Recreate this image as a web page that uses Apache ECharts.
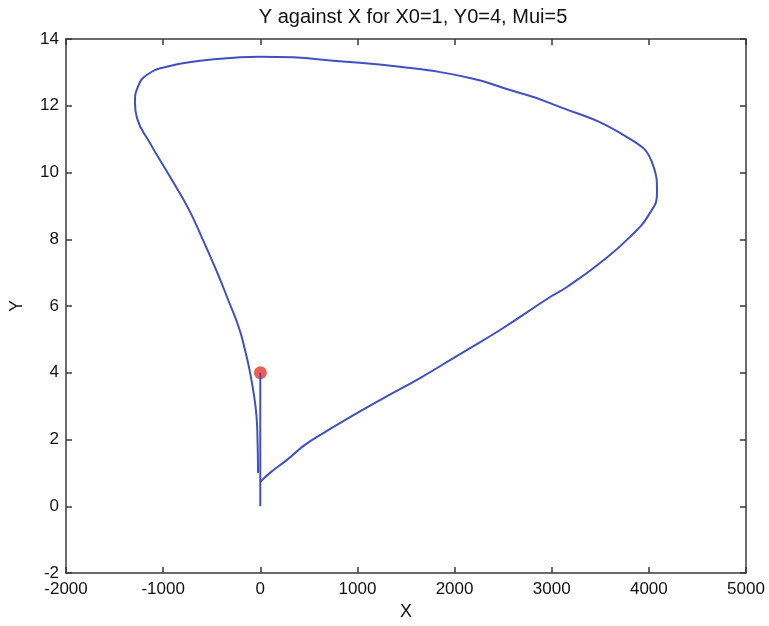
<!DOCTYPE html>
<html>
<head>
<meta charset="utf-8">
<script src="https://cdn.jsdelivr.net/npm/echarts@6/dist/echarts.min.js"></script>
<style>html,body{margin:0;padding:0;background:#fff}#c{width:769px;height:626px}</style>
</head>
<body>
<div id="c"></div>
<script>
var titleText = 'Y against X for X0=1, Y0=4, Mui=5';
var xTicks = [-2000, -1000, 0, 1000, 2000, 3000, 4000, 5000];
var yTicks = [-2, 0, 2, 4, 6, 8, 10, 12, 14];
// vertical drop at start
var dropX = [0, 0];
var dropY = [4, 0];
// main loop trajectory
var loopX = [0, 100, 275, 460, 666, 924, 1232, 1644, 2056, 2468, 2983, 3157, 3497, 3806, 4012, 4084, 4043, 3775, 2983, 2571, 2159, 1438, 749, 337, -3, -209, -621, -963, -1169, -1259, -1290, -1269, -1135, -929, -744, -590, -446, -322, -219, -157, -106, -65, -39, -29, -23];
var loopY = [0.73, 1.0, 1.39, 1.84, 2.22, 2.67, 3.18, 3.84, 4.56, 5.28, 6.27, 6.57, 7.29, 8.07, 8.79, 9.39, 10.22, 11.06, 12.08, 12.47, 12.83, 13.17, 13.35, 13.45, 13.47, 13.45, 13.35, 13.17, 12.92, 12.57, 12.08, 11.63, 10.88, 9.87, 8.94, 7.98, 7.02, 6.12, 5.34, 4.68, 4.02, 3.33, 2.70, 2.07, 1.0];
// initial point
var startX = [1];
var startY = [4];

function zip(a, b) { return a.map(function (v, i) { return [v, b[i]]; }); }

var FONT = '"Liberation Sans", Arial, sans-serif';
var chart = echarts.init(document.getElementById('c'));
var axisLine = { show: true, onZero: false, lineStyle: { color: '#3a3a3a', width: 1.5 } };
var tickIn = { show: true, inside: true, length: 6, lineStyle: { color: '#3a3a3a', width: 1.5 } };
var plain = function (v) { return String(v); };
chart.setOption({
  animation: false,
  backgroundColor: '#fff',
  title: {
    text: titleText, left: 408, top: 2, textAlign: 'center',
    textStyle: { fontFamily: FONT, fontSize: 20, fontWeight: 'normal', color: '#111' }
  },
  grid: { left: 66, right: 23, top: 39, bottom: 53, containLabel: false, outerBoundsMode: 'none' },
  xAxis: [{
    type: 'value', min: xTicks[0], max: xTicks[xTicks.length - 1], interval: 1000,
    position: 'bottom', axisLine: axisLine, axisTick: tickIn, splitLine: { show: false },
    axisLabel: { color: '#111', fontFamily: FONT, fontSize: 17, margin: 8, formatter: plain },
    name: 'X', nameLocation: 'middle', nameGap: 30,
    nameTextStyle: { color: '#111', fontFamily: FONT, fontSize: 18 }
  }, {
    type: 'value', min: xTicks[0], max: xTicks[xTicks.length - 1], interval: 1000,
    position: 'top', axisLine: axisLine, axisTick: tickIn, splitLine: { show: false },
    axisLabel: { show: false }
  }],
  yAxis: [{
    type: 'value', min: yTicks[0], max: yTicks[yTicks.length - 1], interval: 2,
    position: 'left', axisLine: axisLine, axisTick: tickIn, splitLine: { show: false },
    axisLabel: { color: '#111', fontFamily: FONT, fontSize: 17, margin: 7, formatter: plain },
    name: 'Y', nameLocation: 'middle', nameGap: 40, nameRotate: 90,
    nameTextStyle: { color: '#111', fontFamily: FONT, fontSize: 18 }
  }, {
    type: 'value', min: yTicks[0], max: yTicks[yTicks.length - 1], interval: 2,
    position: 'right', axisLine: axisLine, axisTick: tickIn, splitLine: { show: false },
    axisLabel: { show: false }
  }],
  series: [{
    type: 'line', data: zip(dropX, dropY), showSymbol: false,
    lineStyle: { color: '#4050c0', width: 2 }
  }, {
    type: 'line', data: zip(loopX, loopY), showSymbol: false, smooth: 0.5,
    lineStyle: { color: '#4050c0', width: 2 }
  }, {
    type: 'scatter', data: zip(startX, startY), symbolSize: 13,
    itemStyle: { color: '#e8342c' }
  }]
});
</script>
</body>
</html>
